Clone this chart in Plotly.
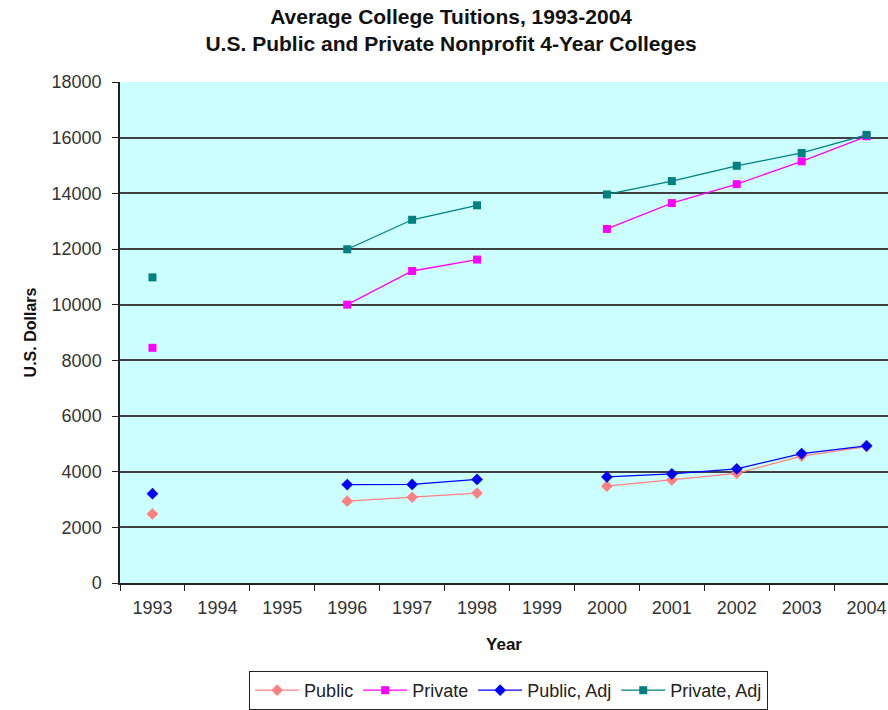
import plotly.graph_objects as go

years = ["1993", "1994", "1995", "1996", "1997", "1998", "1999",
         "2000", "2001", "2002", "2003", "2004"]

public = [2480, None, None, 2940, 3080, 3230, None, 3480, 3700, 3940, 4560, 4900]
private = [8450, None, None, 10000, 11210, 11620, None, 12720, 13650, 14330, 15150, 16050]
public_adj = [3210, None, None, 3535, 3540, 3720, None, 3810, 3920, 4100, 4650, 4930]
private_adj = [10980, None, None, 11990, 13050, 13570, None, 13960, 14440, 14990, 15450, 16100]

y_ticks = [0, 2000, 4000, 6000, 8000, 10000, 12000, 14000, 16000, 18000]

FONT = "Liberation Sans, Arial, sans-serif"

series = [
    ("Public", public, "#FF8080", "diamond", 9),
    ("Private", private, "#FF00FF", "square", 8),
    ("Public, Adj", public_adj, "#0000FF", "diamond", 9),
    ("Private, Adj", private_adj, "#008080", "square", 8),
]

fig = go.Figure()
for name, vals, color, sym, size in series:
    fig.add_trace(go.Scatter(
        x=years, y=vals, name=name, mode="lines+markers",
        connectgaps=False,
        line=dict(color=color, width=1.3),
        marker=dict(color=color, symbol=sym, size=size),
    ))

fig.update_layout(
    width=888, height=710,
    margin=dict(l=120, r=0, t=82, b=123),
    paper_bgcolor="white",
    plot_bgcolor="#CCFFFF",
    font=dict(family=FONT, color="#222222"),
    title=dict(
        text="<b>Average College Tuitions, 1993-2004<br>U.S. Public and Private Nonprofit 4-Year Colleges</b>",
        x=0.508, xanchor="center", y=0.966, yanchor="middle",
        font=dict(size=21, color="#111111", family=FONT),
    ),
    showlegend=True,
    legend=dict(
        orientation="h", x=0.506, xanchor="center", y=-0.176, yanchor="top",
        bordercolor="#222222", borderwidth=1, bgcolor="white",
        font=dict(size=18, family=FONT, color="#222222"),
        itemsizing="trace", itemwidth=44, tracegroupgap=0,
    ),
)

fig.update_xaxes(
    type="category", categoryorder="array", categoryarray=years,
    range=[-0.5, 11.33],
    tickson="boundaries", ticks="outside", ticklen=6, tickcolor="#222222",
    ticklabelstandoff=8,
    showline=True, linecolor="#222222", linewidth=1.5,
    showgrid=False, zeroline=False,
    tickfont=dict(size=18, family=FONT, color="#333333"),
    title=dict(text="<b>Year</b>", font=dict(size=17, family=FONT, color="#111111"), standoff=21),
    automargin=False,
)

fig.update_yaxes(
    range=[0, 18000], tickvals=y_ticks, tickformat="d",
    ticks="outside", ticklen=6, tickcolor="#222222",
    ticklabelstandoff=7,
    showline=True, linecolor="#222222", linewidth=1.5,
    showgrid=True, gridcolor="#404040", gridwidth=1.5,
    zeroline=False,
    tickfont=dict(size=18, family=FONT, color="#333333"),
    title=dict(text="<b>U.S. Dollars</b>", font=dict(size=16, family=FONT, color="#111111"), standoff=11),
    automargin=False,
)

fig.write_html(
    "out.html",
    config={"displayModeBar": False},
    post_script=(
        "document.body.style.margin='0';"
        "document.body.style.overflow='hidden';"
        "document.documentElement.style.overflow='hidden';"
    ),
)
